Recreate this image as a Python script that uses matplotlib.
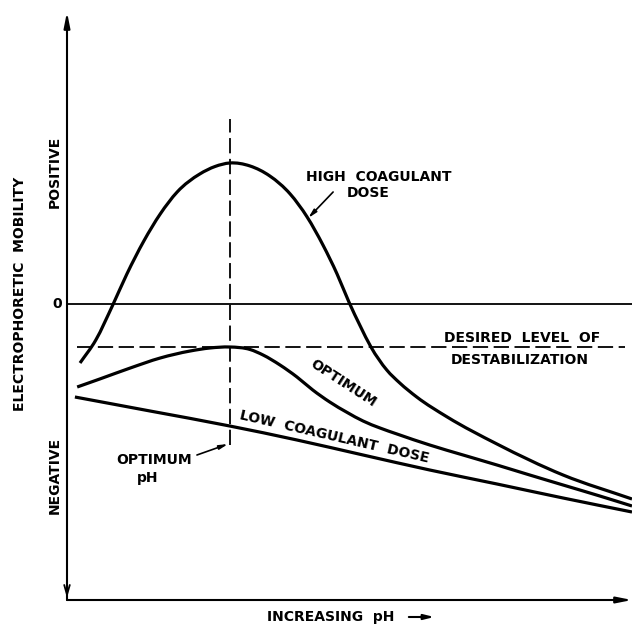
import matplotlib
matplotlib.use("Agg")
import matplotlib.pyplot as plt
from matplotlib.path import Path
from matplotlib.patches import PathPatch

plt.rcParams['lines.scale_dashes'] = False
plt.rcParams['font.family'] = ['DejaVu Sans']

# ---- data (x: increasing pH, 0..100 ; y: electrophoretic mobility, 0 = neutral) ----
high_x = [2.3, 5.1, 8.1, 10.6, 13.6, 16.5, 19.5, 23.5, 26.2, 28.8, 32.4, 35.9, 39.5, 42.5,
          45.3, 47.8, 49.9, 51.9, 53.8, 56.6, 58.9, 61.9, 67.3, 76.1, 87.8, 100.0]
high_y = [-5.9, -3.6, -0.1, 3.0, 6.3, 9.0, 11.2, 13.0, 13.75, 14.1, 13.8, 12.8, 11.0, 8.7,
          5.9, 3.0, 0.2, -2.2, -4.3, -6.6, -7.9, -9.3, -11.3, -14.0, -17.1, -19.5]

opt_x = [1.8, 5.8, 11.2, 16.5, 21.8, 25.3, 28.8, 32.4, 34.7, 37.7, 40.7, 43.5, 46.5, 49.6,
         52.4, 55.4, 58.4, 64.2, 70.1, 76.1, 81.9, 87.8, 94.3, 100.0]
opt_y = [-8.3, -7.5, -6.4, -5.4, -4.7, -4.4, -4.3, -4.55, -5.1, -6.1, -7.3, -8.6, -9.8, -10.85,
         -11.7, -12.4, -13.0, -14.1, -15.1, -16.1, -17.1, -18.1, -19.2, -20.2]

low_x = [1.4, 14.7, 28.8, 40.7, 52.4, 64.2, 76.1, 87.8, 100.0]
low_y = [-9.3, -10.7, -12.2, -13.6, -15.1, -16.6, -18.0, -19.4, -20.8]

desired_level = -4.3
desired_span = [1.8, 98.8]
optimum_ph = 28.8
optimum_ph_span = [-14.1, 18.5]


def smooth_path(xs, ys):
    """Cubic Bezier path through the given points (drawing only)."""
    n = len(xs)
    m = []
    for i in range(n):
        if i == 0:
            m.append((ys[1] - ys[0]) / (xs[1] - xs[0]))
        elif i == n - 1:
            m.append((ys[-1] - ys[-2]) / (xs[-1] - xs[-2]))
        else:
            h0 = xs[i] - xs[i - 1]
            h1 = xs[i + 1] - xs[i]
            d0 = (ys[i] - ys[i - 1]) / h0
            d1 = (ys[i + 1] - ys[i]) / h1
            m.append((d0 * h1 + d1 * h0) / (h0 + h1))
    verts = [(xs[0], ys[0])]
    codes = [Path.MOVETO]
    for i in range(n - 1):
        h = xs[i + 1] - xs[i]
        verts += [(xs[i] + h / 3, ys[i] + m[i] * h / 3),
                  (xs[i + 1] - h / 3, ys[i + 1] - m[i + 1] * h / 3),
                  (xs[i + 1], ys[i + 1])]
        codes += [Path.CURVE4] * 3
    return Path(verts, codes)


W, H = 632, 627
fig = plt.figure(figsize=(W / 100, H / 100), dpi=100)
ax = fig.add_axes([67 / W, 27 / H, 565 / W, 588 / H])
ax.set_xlim(0, 100)
ax.set_ylim(-29.6, 29.2)
ax.axis('off')

fs = 10
tk = dict(color='black', fontsize=fs, fontweight='bold')

# curves
for xs, ys in [(high_x, high_y), (opt_x, opt_y), (low_x, low_y)]:
    ax.add_patch(PathPatch(smooth_path(xs, ys), facecolor='none', edgecolor='black',
                           lw=2.3, capstyle='butt', clip_on=False))

# zero line
ax.plot([0, 100], [0, 0], color='black', lw=1.3, clip_on=False)

# desired level dashed line
ax.plot(desired_span, [desired_level, desired_level], color='black', lw=1.3,
        dashes=(11, 4), clip_on=False)
# optimum pH vertical dashed line
ax.plot([optimum_ph, optimum_ph], optimum_ph_span, color='black', lw=1.3,
        dashes=(11, 4), clip_on=False)

# axes with arrows
ax.annotate('', xy=(0, 29.2), xytext=(0, -29.6),
            arrowprops=dict(arrowstyle='-|>,head_length=0.9,head_width=0.18', color='black',
                            lw=1.5, shrinkA=0, shrinkB=0), annotation_clip=False)
ax.annotate('', xy=(0, -29.4), xytext=(0, -25),
            arrowprops=dict(arrowstyle='->,head_length=0.7,head_width=0.2', color='black',
                            lw=1.3, shrinkA=0, shrinkB=0), annotation_clip=False)
ax.annotate('', xy=(100, -29.6), xytext=(0, -29.6),
            arrowprops=dict(arrowstyle='-|>,head_length=0.9,head_width=0.18', color='black',
                            lw=1.5, shrinkA=0, shrinkB=0), annotation_clip=False)

# axis texts
ax.text(-1.8, 0, '0', ha='center', va='center', **tk)
ax.text(-2.1, 13.2, 'POSITIVE', rotation=90, ha='center', va='center', **tk)
ax.text(-2.1, -17.1, 'NEGATIVE', rotation=90, ha='center', va='center', **tk)
ax.text(-8.3, 1.0, 'ELECTROPHORETIC  MOBILITY', rotation=90, ha='center', va='center', **tk)
ax.text(46.7, -31.3, 'INCREASING  pH', ha='center', va='center', **tk)
ax.annotate('', xy=(65.0, -31.3), xytext=(60.5, -31.3),
            arrowprops=dict(arrowstyle='-|>,head_length=0.6,head_width=0.15', color='black',
                            lw=1.5, shrinkA=0, shrinkB=0), annotation_clip=False)

# curve labels
ax.text(55.1, 12.7, 'HIGH  COAGULANT', ha='center', va='center', **tk)
ax.text(53.3, 11.1, 'DOSE', ha='center', va='center', **tk)
ax.annotate('', xy=(42.7, 8.6), xytext=(47.1, 11.2),
            arrowprops=dict(arrowstyle='-|>,head_length=0.5,head_width=0.12', color='black',
                            lw=1.2, shrinkA=0, shrinkB=0))

ax.text(80.5, -3.4, 'DESIRED  LEVEL  OF', ha='center', va='center', **tk)
ax.text(80.2, -5.6, 'DESTABILIZATION', ha='center', va='center', **tk)

ax.text(48.8, -7.9, 'OPTIMUM', rotation=-33, rotation_mode='anchor', ha='center',
        va='center', **tk)
ax.text(47.4, -13.3, 'LOW  COAGULANT  DOSE', rotation=-13, rotation_mode='anchor',
        ha='center', va='center', **tk)

ax.text(15.4, -15.6, 'OPTIMUM', ha='center', va='center', **tk)
ax.text(14.3, -17.4, 'pH', ha='center', va='center', **tk)
ax.annotate('', xy=(28.5, -14.0), xytext=(23.0, -15.1),
            arrowprops=dict(arrowstyle='-|>,head_length=0.5,head_width=0.12', color='black',
                            lw=1.2, shrinkA=0, shrinkB=0))

fig.savefig('out.png', dpi=100, facecolor='white')
